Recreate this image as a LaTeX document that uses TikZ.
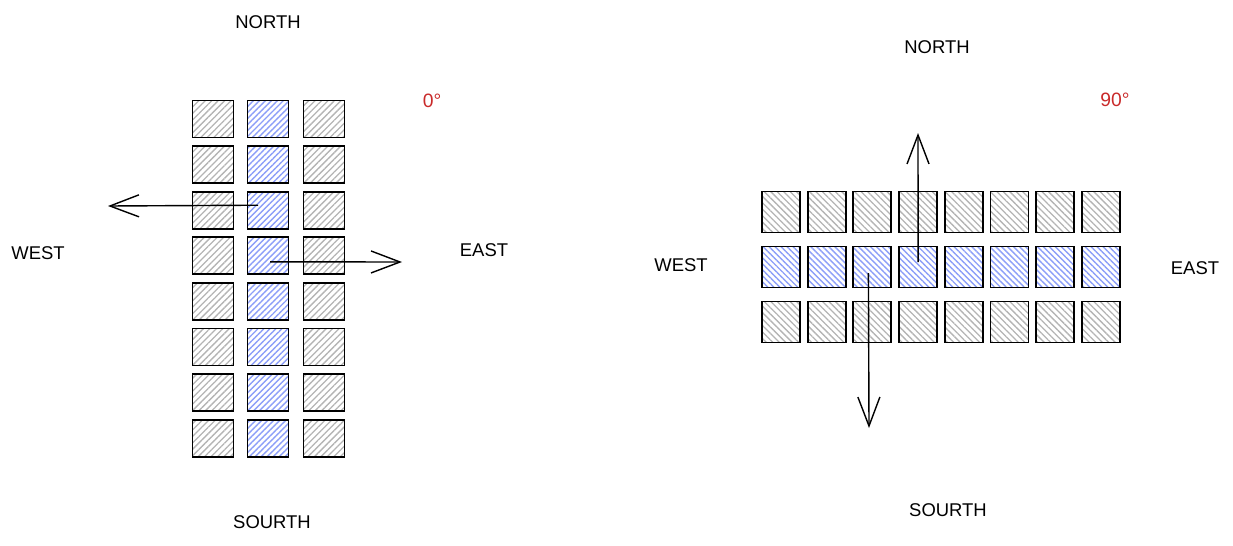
\documentclass[tikz,border=0pt]{standalone}
\usepackage{fontspec}
\setmainfont{Liberation Sans}
\usepackage{tikz}
\usetikzlibrary{
arrows.meta,
positioning,
patterns.meta
}
\definecolor{tilegray}{HTML}{B4B4B4}
\definecolor{tileblue}{HTML}{8C9EF8}
\definecolor{degred}{HTML}{C92A2A}

\begin{document}
\begin{tikzpicture}[
  x=0.02cm, y=-0.02cm,
  >={Straight Barb[length=5.8mm, width=4.4mm]},
  tileV/.style={draw, line width=1.1pt, minimum width=0.82cm, minimum height=0.74cm, inner sep=0pt},
  tileH/.style={draw, line width=1.1pt, minimum width=0.76cm, minimum height=0.82cm, inner sep=0pt},
  grayV/.style={tileV, pattern={Lines[angle=45, distance=2.6pt, line width=0.75pt]}, pattern color=tilegray},
  blueV/.style={tileV, pattern={Lines[angle=45, distance=2.4pt, line width=0.8pt]}, pattern color=tileblue},
  grayH/.style={tileH, pattern={Lines[angle=-45, distance=2.6pt, line width=0.75pt]}, pattern color=tilegray},
  blueH/.style={tileH, pattern={Lines[angle=-45, distance=2.4pt, line width=0.8pt]}, pattern color=tileblue},
  dirtext/.style={font=\fontsize{10.5}{12}\selectfont},
  degtext/.style={font=\fontsize{11}{13}\selectfont, text=degred}
]
\useasboundingbox (0,0) rectangle (1233,545);

% 0 degrees: three columns
\foreach \c/\x in {1/213, 3/324}
  \foreach \r in {1,...,8}
    \node[grayV] (L-\c-\r) at (\x, {119+45.6*(\r-1)}) {};
\foreach \r in {1,...,8}
  \node[blueV] (L-2-\r) at (268, {119+45.6*(\r-1)}) {};

\node[dirtext] (lnorth) at (268,22) {NORTH};
\node[dirtext] (lsouth) at (272,522) {SOURTH};
\node[dirtext] (lwest) at (38,253) {WEST};
\node[dirtext] (least) at (484,250) {EAST};
\node[degtext] (ldeg) at (432,101) {0°};

\coordinate (lwestend) at (108,206);
\coordinate (leastend) at (402,262);
\draw[->, thick] (L-2-3.center) ++(-10,-5) -- (lwestend);
\draw[->, thick] (L-2-4.center) ++(2,6) -- (leastend);

% 90 degrees: three rows
\foreach \r/\y in {1/212, 3/322}
  \foreach \c in {1,...,8}
    \node[grayH] (R-\c-\r) at ({781+45.7*(\c-1)}, \y) {};
\foreach \c in {1,...,8}
  \node[blueH] (R-\c-2) at ({781+45.7*(\c-1)}, 267) {};

\node[dirtext] (rnorth) at (937,47) {NORTH};
\node[dirtext] (rsouth) at (948,510) {SOURTH};
\node[dirtext] (rwest) at (681,265) {WEST};
\node[dirtext] (reast) at (1195,268) {EAST};
\node[degtext] (rdeg) at (1115,100) {90°};

\coordinate (rnorthend) at (918,133);
\coordinate (rsouthend) at (869,428);
\draw[->, thick] (R-4-2.center) ++(0,-5) -- (rnorthend);
\draw[->, thick] (R-3-2.center) ++(-4,6) -- (rsouthend);

\end{tikzpicture}
\end{document}
